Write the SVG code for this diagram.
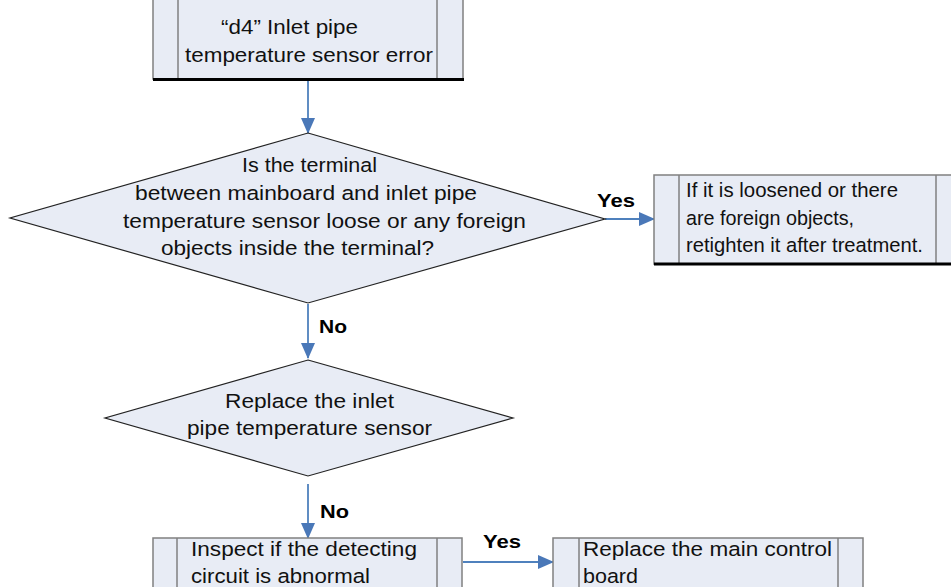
<svg xmlns="http://www.w3.org/2000/svg" width="951" height="587" viewBox="0 0 951 587">
<style>
.box{fill:#e8ecf5;stroke:#808080;stroke-width:1.5}
.inner{stroke:#808080;stroke-width:1.5;fill:none}
.shadow{stroke:#000;stroke-width:3;fill:none}
.dia{fill:#e8ecf5;stroke:#222;stroke-width:1.2}
.t{font-family:"Liberation Sans",Arial,sans-serif;font-size:20.5px;fill:#111}
.lbl{font-family:"Liberation Sans",Arial,sans-serif;font-size:19px;font-weight:bold;fill:#000}
.conn{stroke:#4f81bd;stroke-width:1.8;fill:none;marker-end:url(#ah)}
</style>
<defs>
<marker id="ah" markerUnits="userSpaceOnUse" markerWidth="16" markerHeight="14" refX="15" refY="7" orient="auto">
<path d="M0,0 L16,7 L0,14 Z" fill="#4a78b8"/>
</marker>
</defs>
<rect width="951" height="587" fill="#fff"/>
<g id="connectors">
<line class="conn" x1="308" y1="80" x2="308" y2="133"/>
<line class="conn" x1="605" y1="219" x2="654" y2="219"/>
<line class="conn" x1="308" y1="304" x2="308" y2="358"/>
<line class="conn" x1="308" y1="484" x2="308" y2="538"/>
<line class="conn" x1="463" y1="562" x2="553" y2="562"/>
<text class="lbl" x="597" y="207" textLength="38" lengthAdjust="spacingAndGlyphs">Yes</text>
<text class="lbl" x="319" y="333" textLength="28" lengthAdjust="spacingAndGlyphs">No</text>
<text class="lbl" x="320" y="518" textLength="29" lengthAdjust="spacingAndGlyphs">No</text>
<text class="lbl" x="483" y="548" textLength="38" lengthAdjust="spacingAndGlyphs">Yes</text>
</g>
<g id="start">
<rect class="box" x="153" y="-2" width="310" height="81"/>
<line class="inner" x1="178" y1="0" x2="178" y2="79"/>
<line class="inner" x1="437" y1="0" x2="437" y2="79"/>
<line class="shadow" x1="153" y1="79.5" x2="464" y2="79.5"/>
<text class="t" x="221" y="34" textLength="137" lengthAdjust="spacingAndGlyphs">“d4” Inlet pipe</text>
<text class="t" x="185" y="62" textLength="248" lengthAdjust="spacingAndGlyphs">temperature sensor error</text>
</g>
<g id="decision1">
<polygon class="dia" points="308,133 605,219 308,303 10,218"/>
<text class="t" x="242" y="172" textLength="135" lengthAdjust="spacingAndGlyphs">Is the terminal</text>
<text class="t" x="135" y="200" textLength="342" lengthAdjust="spacingAndGlyphs">between mainboard and inlet pipe</text>
<text class="t" x="123" y="228" textLength="403" lengthAdjust="spacingAndGlyphs">temperature sensor loose or any foreign</text>
<text class="t" x="161" y="255" textLength="273" lengthAdjust="spacingAndGlyphs">objects inside the terminal?</text>
</g>
<g id="fix">
<rect class="box" x="654" y="175" width="310" height="89"/>
<line class="inner" x1="679" y1="175" x2="679" y2="264"/>
<line class="inner" x1="936" y1="175" x2="936" y2="264"/>
<line class="shadow" x1="654" y1="264" x2="951" y2="264"/>
<text class="t" x="686" y="197" textLength="212" lengthAdjust="spacingAndGlyphs">If it is loosened or there</text>
<text class="t" x="686" y="225" textLength="168" lengthAdjust="spacingAndGlyphs">are foreign objects,</text>
<text class="t" x="686" y="252" textLength="237" lengthAdjust="spacingAndGlyphs">retighten it after treatment.</text>
</g>
<g id="decision2">
<polygon class="dia" points="308,360 513,418 308,476 105,418"/>
<text class="t" x="225" y="408" textLength="169" lengthAdjust="spacingAndGlyphs">Replace the inlet</text>
<text class="t" x="187" y="435" textLength="245" lengthAdjust="spacingAndGlyphs">pipe temperature sensor</text>
</g>
<g id="inspect">
<rect class="box" x="153" y="538" width="309" height="60"/>
<line class="inner" x1="177" y1="538" x2="177" y2="590"/>
<line class="inner" x1="437" y1="538" x2="437" y2="590"/>
<text class="t" x="191" y="556" textLength="226" lengthAdjust="spacingAndGlyphs">Inspect if the detecting</text>
<text class="t" x="191" y="583" textLength="179" lengthAdjust="spacingAndGlyphs">circuit is abnormal</text>
</g>
<g id="replace">
<rect class="box" x="553" y="538" width="310" height="60"/>
<line class="inner" x1="579" y1="538" x2="579" y2="590"/>
<line class="inner" x1="838" y1="538" x2="838" y2="590"/>
<text class="t" x="583" y="556" textLength="249" lengthAdjust="spacingAndGlyphs">Replace the main control</text>
<text class="t" x="583" y="583" textLength="55" lengthAdjust="spacingAndGlyphs">board</text>
</g>
</svg>
